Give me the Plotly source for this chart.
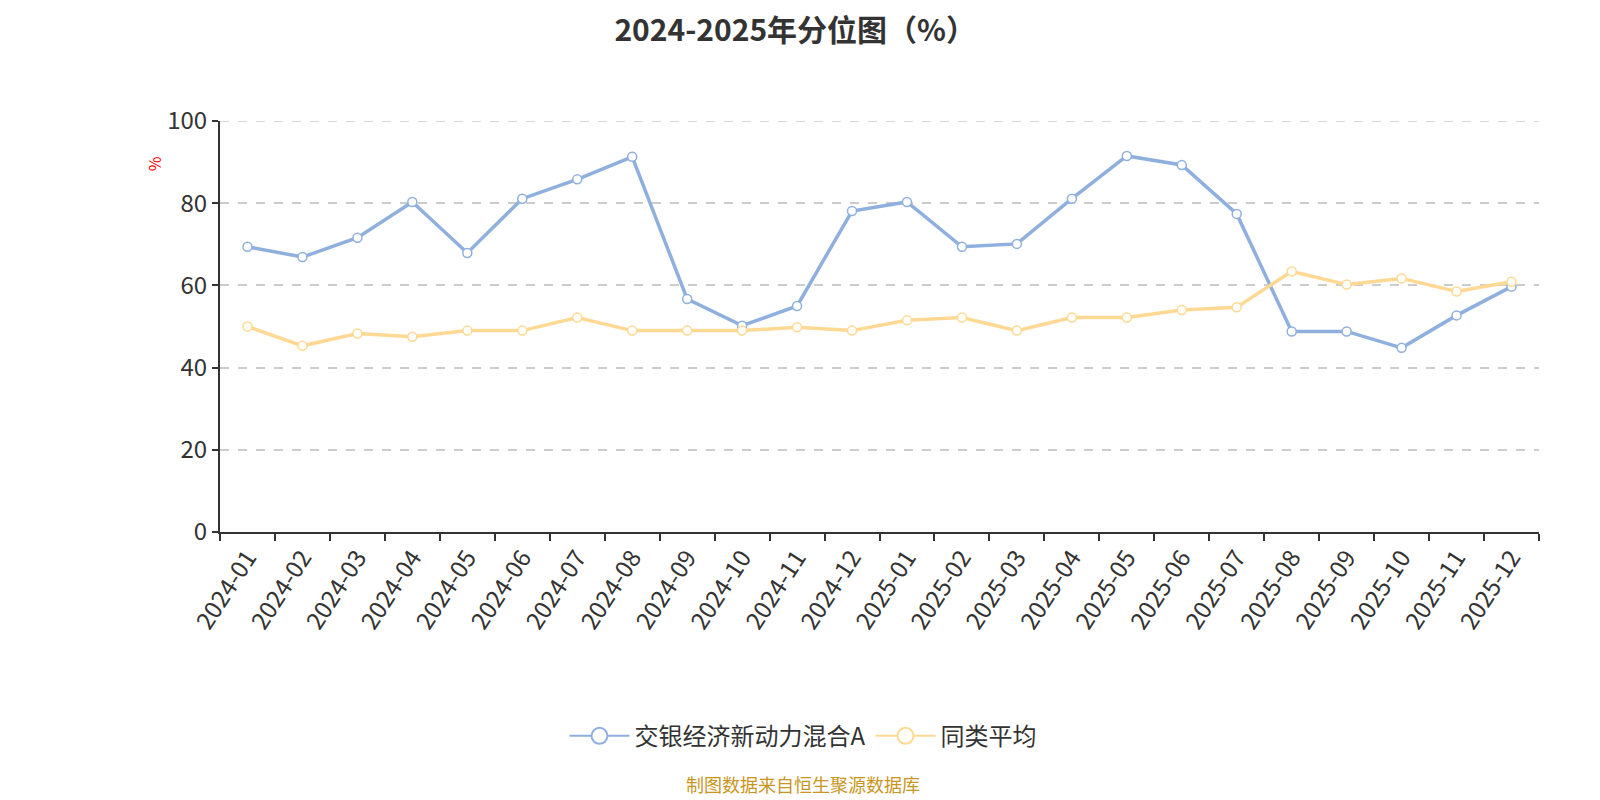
import plotly.graph_objects as go

months = ["2024-01", "2024-02", "2024-03", "2024-04", "2024-05", "2024-06",
          "2024-07", "2024-08", "2024-09", "2024-10", "2024-11", "2024-12",
          "2025-01", "2025-02", "2025-03", "2025-04", "2025-05", "2025-06",
          "2025-07", "2025-08", "2025-09", "2025-10", "2025-11", "2025-12"]

fund_pct = [69.4, 66.9, 71.6, 80.3, 67.9, 81.1, 85.8, 91.3, 56.7, 50.2, 55.0, 78.1,
            80.3, 69.4, 70.1, 81.1, 91.5, 89.3, 77.4, 48.8, 48.8, 44.8, 52.7, 59.7]

peer_avg = [50.0, 45.3, 48.3, 47.5, 49.0, 49.0, 52.2, 49.0, 49.0, 49.0, 49.8, 49.0,
            51.5, 52.2, 49.0, 52.2, 52.2, 54.0, 54.7, 63.4, 60.2, 61.7, 58.5, 60.9]

fund_name = "交银经济新动力混合A"
peer_name = "同类平均"

blue = "#8FB0DE"
orange = "#FFD994"

fig = go.Figure()

# fund line
fig.add_trace(go.Scatter(
    x=months, y=fund_pct, mode="lines+markers", name=fund_name,
    line=dict(color=blue, width=3.5),
    marker=dict(size=9, color="white", line=dict(color=blue, width=1.5)),
    showlegend=False,
))

# peer average line
fig.add_trace(go.Scatter(
    x=months, y=peer_avg, mode="lines+markers", name=peer_name,
    line=dict(color=orange, width=3.5),
    marker=dict(size=9, color="white", line=dict(color=orange, width=1.5)),
    showlegend=False,
))

# legend-only entries with big hollow circles
for name, col in [(fund_name, blue), (peer_name, orange)]:
    fig.add_trace(go.Scatter(
        x=[None], y=[None], mode="lines+markers", name=name,
        line=dict(color=col, width=2),
        marker=dict(size=16, color="white", line=dict(color=col, width=2)),
    ))

fig.update_layout(
    width=1600, height=800,
    paper_bgcolor="white", plot_bgcolor="white",
    font=dict(family="Noto Sans CJK SC, Noto Sans, sans-serif", color="#333"),
    title=dict(text="<b>2024-2025年分位图（%）</b>", x=0.492, xanchor="center",
               y=0.972, yanchor="middle", font=dict(size=30, color="#333")),
    margin=dict(l=212, r=69, t=113, b=276, autoexpand=False),
    showlegend=True,
    legend=dict(orientation="h", x=0.442, xanchor="center", y=-0.497, yanchor="middle",
                font=dict(size=24, color="#333"), itemwidth=60),
    xaxis=dict(
        type="category", range=[-0.5, 23.5], tickson="boundaries",
        ticks="outside", ticklen=7, tickwidth=2, tickcolor="#333",
        showline=True, linecolor="#333", linewidth=2, automargin=False,
        showgrid=False, tickangle=-57,
        tickfont=dict(size=24, color="#333"),
    ),
    yaxis=dict(
        range=[0, 100], dtick=20, ticks="outside", ticklen=6, tickwidth=2,
        tickcolor="#333", showline=True, linecolor="#333", linewidth=2,
        automargin=False,
        showgrid=True, gridcolor="#cccccc", griddash="dash", gridwidth=1.5,
        zeroline=False, tickfont=dict(size=24, color="#333"),
    ),
)

# top gridline at 100 (plotly skips grid on the range edge)
fig.add_hline(y=100, line=dict(color="#cccccc", width=1.5, dash="dash"))

# y axis unit label
fig.add_annotation(text="%", xref="paper", yref="paper", x=-0.06, y=0.92,
                   showarrow=False, textangle=-90,
                   font=dict(size=16, color="red"))

# data source footer
fig.add_annotation(text="制图数据来自恒生聚源数据库", xref="paper", yref="paper",
                   x=0.442, y=-0.612, yanchor="middle", showarrow=False,
                   font=dict(size=18, color="#C8961E"))

fig.write_html("out.html")
